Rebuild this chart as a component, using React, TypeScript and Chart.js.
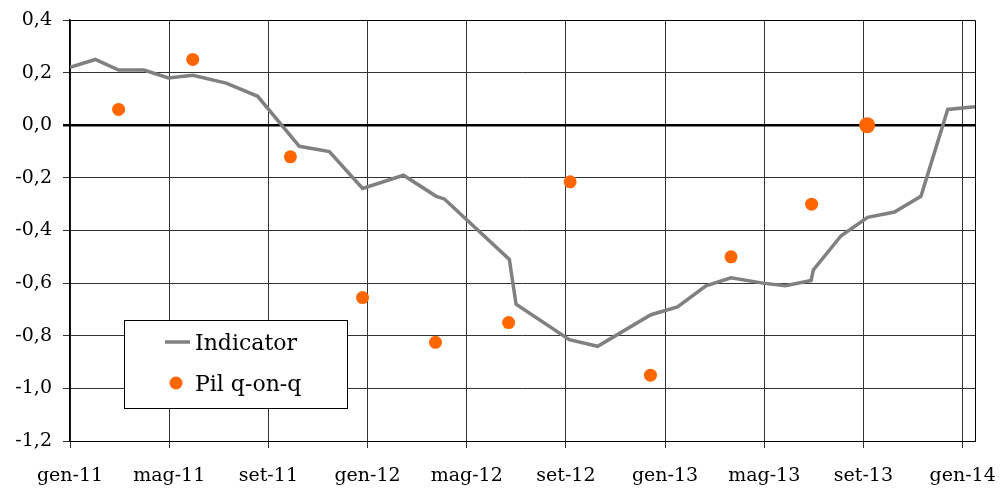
import React, { useEffect, useRef } from 'react';
import { Chart, registerables } from 'chart.js';
Chart.register(...registerables);

// x positions expressed in months since gen-11
const tickMonths = [0, 4, 8, 12, 16, 20, 24, 28, 32, 36];
const tickLabels = ['gen-11', 'mag-11', 'set-11', 'gen-12', 'mag-12', 'set-12', 'gen-13', 'mag-13', 'set-13', 'gen-14'];

const indicatorMonths = [0, 1.02, 1.96, 2.98, 3.97, 4.95, 6.3, 7.57, 9.25, 10.46, 11.8, 13.45, 14.77, 15.1, 17.72, 17.99, 20.14, 21.28, 23.43, 24.5, 25.65, 26.66, 27.94, 28.85, 29.89, 29.98, 31.1, 32.17, 33.25, 34.32, 35.4, 36.5];
const indicatorValues = [0.22, 0.25, 0.21, 0.21, 0.18, 0.19, 0.16, 0.11, -0.08, -0.10, -0.24, -0.19, -0.27, -0.28, -0.51, -0.68, -0.815, -0.84, -0.72, -0.69, -0.61, -0.58, -0.60, -0.61, -0.59, -0.55, -0.42, -0.35, -0.33, -0.27, 0.06, 0.07];

const pilMonths = [1.96, 4.95, 8.89, 11.8, 14.74, 17.69, 20.17, 23.41, 26.66, 29.91, 32.15];
const pilValues = [0.06, 0.25, -0.12, -0.655, -0.825, -0.75, -0.215, -0.95, -0.5, -0.3, 0.0];
const pilRadii = [6.5, 6.5, 6.5, 6.5, 6.5, 6.5, 6.5, 6.5, 6.5, 6.5, 8];

const FONT = 'DejaVu Serif';

const framePlugin = {
  id: 'frame',
  afterDraw(chart: any) {
    const { ctx, chartArea } = chart;
    ctx.save();
    ctx.strokeStyle = '#000';
    ctx.lineWidth = 1;
    ctx.beginPath();
    ctx.moveTo(Math.round(chartArea.left) + 0.5, Math.round(chartArea.top) + 0.5);
    ctx.lineTo(Math.round(chartArea.right) + 0.5, Math.round(chartArea.top) + 0.5);
    ctx.lineTo(Math.round(chartArea.right) + 0.5, Math.round(chartArea.bottom) + 0.5);
    ctx.stroke();
    ctx.restore();
  },
};

const legendPlugin = {
  id: 'boxLegend',
  afterDraw(chart: any) {
    const { ctx } = chart;
    ctx.save();
    ctx.fillStyle = '#fff';
    ctx.fillRect(124, 320, 223, 88);
    ctx.strokeStyle = '#000';
    ctx.lineWidth = 1;
    ctx.strokeRect(124.5, 320.5, 223, 88);
    ctx.strokeStyle = '#808080';
    ctx.lineWidth = 3.5;
    ctx.beginPath();
    ctx.moveTo(165, 342);
    ctx.lineTo(190, 342);
    ctx.stroke();
    ctx.fillStyle = '#FF6600';
    ctx.beginPath();
    ctx.arc(176, 383, 6.5, 0, Math.PI * 2);
    ctx.fill();
    ctx.fillStyle = '#000';
    ctx.font = `22px "${FONT}"`;
    ctx.textBaseline = 'middle';
    ctx.textAlign = 'left';
    ctx.fillText('Indicator', 195, 344);
    ctx.fillText('Pil q-on-q', 195, 385);
    ctx.restore();
  },
};

export default function App() {
  const ref = useRef<HTMLCanvasElement>(null);
  useEffect(() => {
    const chart = new Chart(ref.current!, {
      type: 'scatter',
      data: {
        datasets: [
          {
            type: 'line',
            label: 'Indicator',
            data: indicatorMonths.map((m, i) => ({ x: m, y: indicatorValues[i] })),
            borderColor: '#808080',
            backgroundColor: '#808080',
            borderWidth: 3.5,
            pointRadius: 0,
            fill: false,
            tension: 0,
            order: 2,
          } as any,
          {
            type: 'scatter',
            label: 'Pil q-on-q',
            data: pilMonths.map((m, i) => ({ x: m, y: pilValues[i] })),
            backgroundColor: '#FF6600',
            borderWidth: 0,
            pointRadius: pilRadii,
            order: 1,
          } as any,
        ],
      },
      options: {
        animation: false,
        responsive: false,
        maintainAspectRatio: false,
        layout: { padding: { left: 0, top: 20, right: 27, bottom: 0 } },
        plugins: { legend: { display: false }, tooltip: { enabled: false } },
        scales: {
          x: {
            type: 'linear',
            min: 0,
            max: 36.5,
            afterBuildTicks: (s: any) => {
              s.ticks = tickMonths.map((v) => ({ value: v }));
            },
            afterFit: (s: any) => {
              s.height = 47;
              s.paddingLeft = 0;
              s.paddingRight = 0;
            },
            ticks: {
              autoSkip: false,
              maxRotation: 0,
              padding: 17,
              color: '#000',
              font: { family: FONT, size: 19 },
              callback: (_v: any, i: number) => tickLabels[i],
            },
            grid: { color: '#333', lineWidth: 1, tickLength: 7 },
            border: { color: '#000', width: 1 },
          },
          y: {
            min: -1.2,
            max: 0.4,
            afterFit: (s: any) => {
              s.width = 70;
              s.paddingTop = 0;
              s.paddingBottom = 0;
            },
            ticks: {
              stepSize: 0.2,
              padding: 11,
              color: '#000',
              font: { family: FONT, size: 19 },
              callback: (v: any) => (Math.abs(v) < 1e-9 ? 0 : Number(v)).toFixed(1).replace('.', ','),
            },
            grid: {
              color: (c: any) => (Math.abs(c.tick.value) < 1e-9 ? '#000' : '#333'),
              lineWidth: (c: any) => (Math.abs(c.tick.value) < 1e-9 ? 2.5 : 1),
              tickLength: 7,
            },
            border: { color: '#000', width: 1.5 },
          },
        },
      } as any,
      plugins: [framePlugin, legendPlugin],
    });
    return () => chart.destroy();
  }, []);
  return (
    <div style={{ position: 'fixed', left: 0, top: 0, width: 1002, height: 488, background: '#fff' }}>
      <canvas ref={ref} width={1002} height={488} style={{ display: 'block' }} />
    </div>
  );
}
